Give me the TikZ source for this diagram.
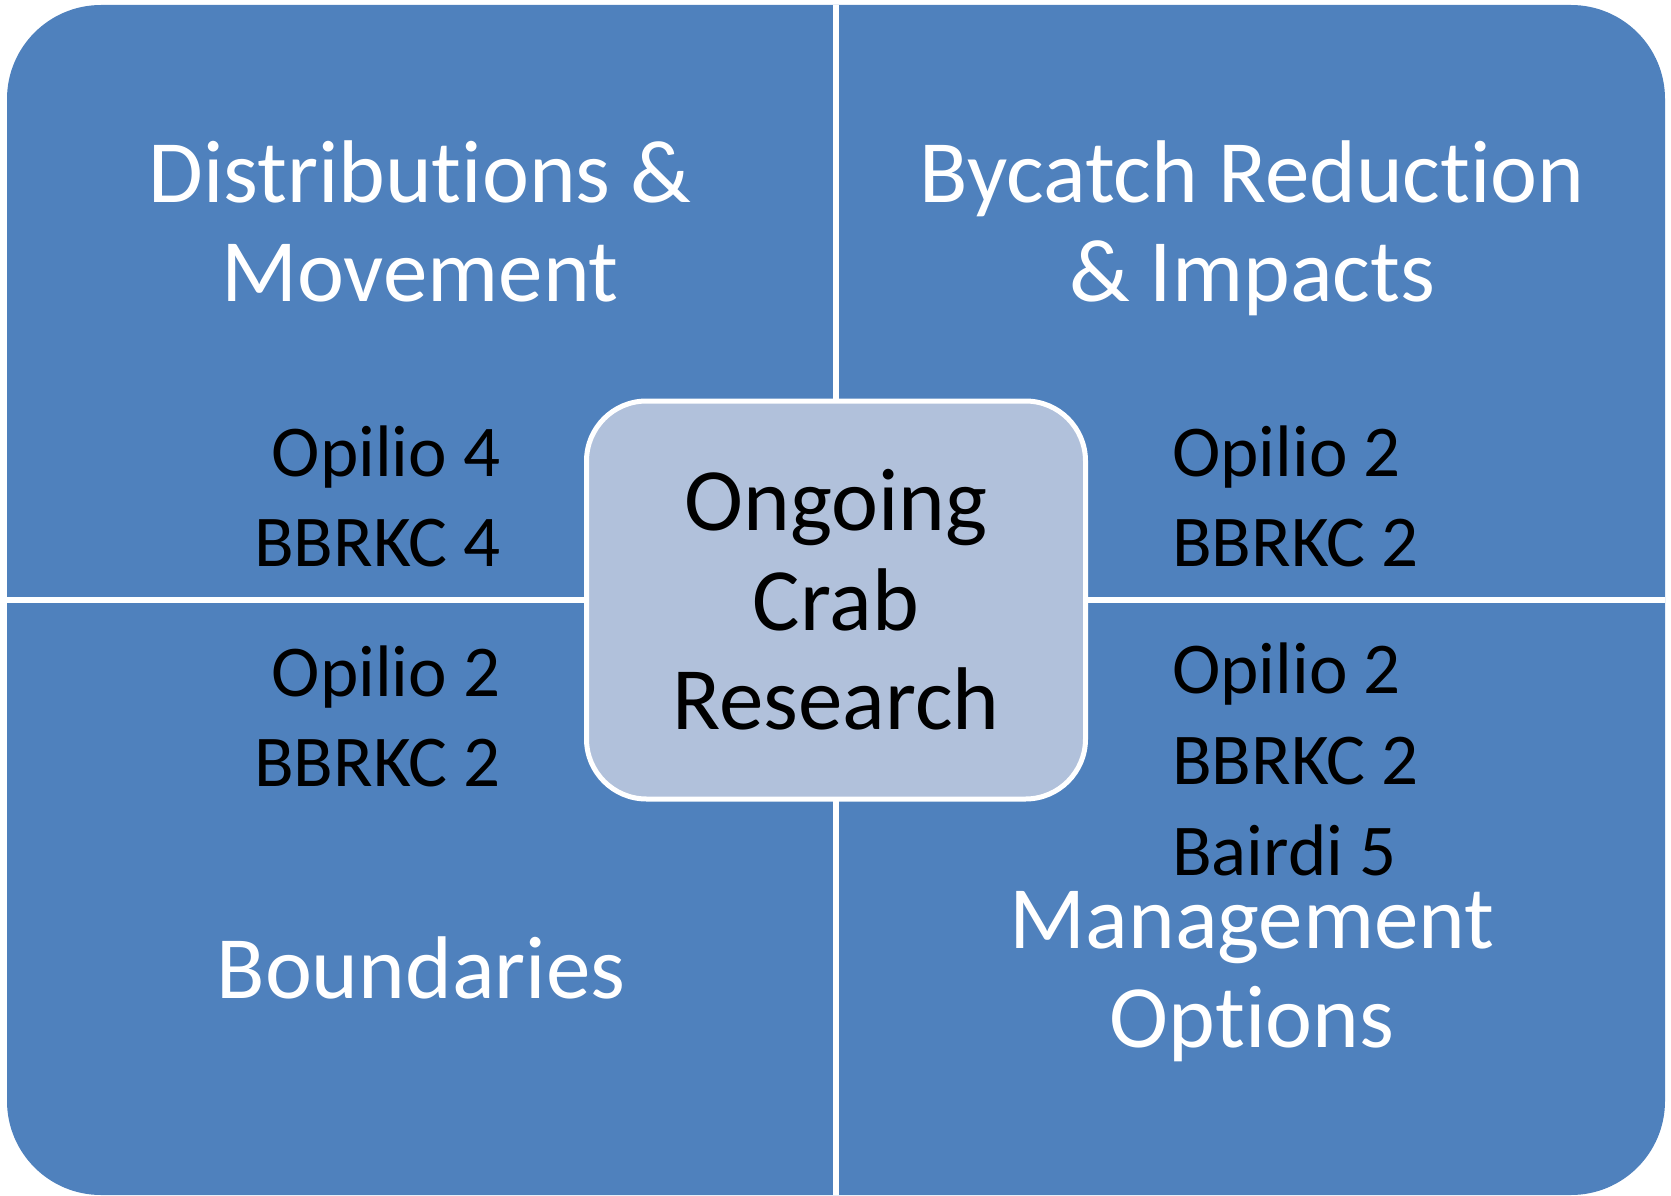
\documentclass[tikz,border=0pt]{standalone}
\usepackage{fontspec}
\setmainfont[Ligatures=NoCommon]{Carlito}
\usepackage{tikz}
\definecolor{panelblue}{RGB}{79,129,189}
\definecolor{corefill}{RGB}{177,193,219}

\begin{document}
\begin{tikzpicture}[x=1pt, y=-1pt,
		heading/.style={text=white, align=center, inner sep=0pt, font=\fontsize{89}{99.5}\selectfont},
		tally/.style={text=black, inner sep=0pt, font=\fontsize{73}{90.7}\selectfont},
		divider/.style={white, line width=6pt},
		corebox/.style={draw=white, line width=5pt, fill=corefill, rounded corners=60pt,
			minimum width=499pt, minimum height=398pt, align=center, inner sep=0pt,
			font=\fontsize{89}{99.7}\selectfont}]
	\useasboundingbox (0,0) rectangle (1671,1196);
	% the four panels
	\fill[panelblue, rounded corners=94pt] (7,5) rectangle (1665,1195);
	\coordinate (divtop) at (836,5);
	\coordinate (divbottom) at (836,1195);
	\coordinate (divleft) at (7,600);
	\coordinate (divright) at (1665,600);
	\draw[divider] (divtop) -- (divbottom);
	\draw[divider] (divleft) -- (divright);
	% centre
	\node[corebox] (core) at (836,600) {Ongoing\\Crab\\Research};
	% panel titles (base = last line)
	\node[heading, anchor=base] (distr) at (420,301.6) {Distributions \&\\Movement};
	\node[heading, anchor=base] (bycatch) at (1252,301.6) {Bycatch Reduction\\\& Impacts};
	\node[heading, anchor=base] (bound) at (421,998.5) {Boundaries};
	\node[heading, anchor=base] (manage) at (1252,1047.6) {Management\\Options};
	% counts
	\node[tally, anchor=base east, align=right] (distrn) at (501,566.7) {Opilio 4\\BBRKC 4};
	\node[tally, anchor=base east, align=right] (boundn) at (501,786.7) {Opilio 2\\BBRKC 2};
	\node[tally, anchor=base west, align=left] (bycatchn) at (1172,566.7) {Opilio 2\\BBRKC 2};
	\node[tally, anchor=base west, align=left] (managen) at (1172,875) {Opilio 2\\BBRKC 2\\Bairdi 5};
\end{tikzpicture}
\end{document}
